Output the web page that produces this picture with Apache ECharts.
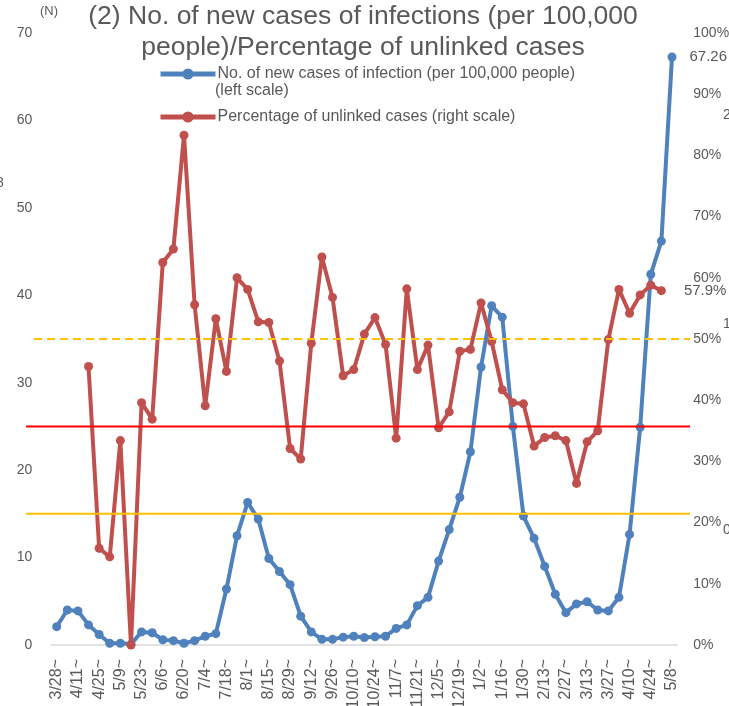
<!DOCTYPE html>
<html>
<head>
<meta charset="utf-8">
<script src="https://cdn.jsdelivr.net/npm/echarts@6/dist/echarts.min.js"></script>
<style>
  html, body { margin: 0; padding: 0; background: #fff; }
  #chart { width: 729px; height: 706px; }
</style>
</head>
<body>
<div id="chart"></div>
<script>
// weekly periods (week starting), 2020/3/28 - 2021/5/8
const weeks = [
  '3/28', '4/4', '4/11', '4/18', '4/25', '5/2', '5/9', '5/16', '5/23', '5/30',
  '6/6', '6/13', '6/20', '6/27', '7/4', '7/11', '7/18', '7/25', '8/1', '8/8',
  '8/15', '8/22', '8/29', '9/5', '9/12', '9/19', '9/26', '10/3', '10/10', '10/17',
  '10/24', '10/31', '11/7', '11/14', '11/21', '11/28', '12/5', '12/12', '12/19', '12/26',
  '1/2', '1/9', '1/16', '1/23', '1/30', '2/6', '2/13', '2/20', '2/27', '3/6',
  '3/13', '3/20', '3/27', '4/3', '4/10', '4/17', '4/24', '5/1', '5/8'
]

// new cases per 100,000 people (left scale)
const newCases = [
  2.1, 4.0, 3.9, 2.3, 1.2, 0.2, 0.2, 0.1, 1.5, 1.4,
  0.6, 0.5, 0.2, 0.5, 1.0, 1.3, 6.4, 12.5, 16.3, 14.4,
  9.9, 8.4, 6.9, 3.3, 1.5, 0.65, 0.65, 0.9, 1.0, 0.85,
  0.95, 1.0, 1.9, 2.3, 4.5, 5.45, 9.6, 13.2, 16.9, 22.1,
  31.8, 38.8, 37.5, 25.0, 14.75, 12.2, 9.0, 5.8, 3.7, 4.7,
  4.95, 4.0, 3.9, 5.45, 12.65, 24.9, 42.4, 46.2, 67.26
]

// percentage of unlinked cases (right scale)
const unlinked = [
  null, null, null, 45.5, 15.8, 14.4, 33.4, 0, 39.6, 36.9,
  62.5, 64.7, 83.3, 55.6, 39.1, 53.3, 44.7, 60.0, 58.1, 52.8,
  52.7, 46.4, 32.1, 30.4, 49.3, 63.4, 56.8, 44.0, 45.0, 50.8,
  53.5, 49.1, 33.8, 58.2, 45.0, 49.0, 35.5, 38.1, 48.0, 48.3,
  55.9, 49.6, 41.7, 39.6, 39.4, 32.5, 33.9, 34.2, 33.4, 26.4,
  33.2, 35.0, 49.9, 58.1, 54.2, 57.2, 58.8, 57.9, null
]

const leftTicks = { min: 0, max: 70, interval: 10 }
const rightTicks = { min: 0, max: 100, interval: 10 }

// reference levels on the left scale
const refLines = [
  { value: 15, color: '#FFC000', type: 'solid' },
  { value: 25, color: '#FF0000', type: 'solid' },
  { value: 35, color: '#FFC000', type: 'dashed' }
]

const blue = '#4F81BD'
const red = '#C0504D'
const grey = '#595959'
const font = '"Liberation Sans", Arial, "Noto Sans CJK JP", sans-serif'

{
  let view = document.getElementById('chart')
  let myChart = echarts.init(view)

  let lastBlue = newCases.length - 1
  let lastRed = unlinked.length - 2

  let option = {
    animation: false,
    textStyle: { fontFamily: font },
    title: {
      text: '(2) No. of new cases of infections (per 100,000\npeople)/Percentage of unlinked cases',
      left: 358,
      top: -4,
      textAlign: 'center',
      textStyle: {
        fontFamily: font,
        fontSize: 26.5,
        fontWeight: 'normal',
        color: grey,
        lineHeight: 31
      }
    },
    legend: {
      orient: 'vertical',
      left: 158,
      top: 66,
      padding: 0,
      itemWidth: 55,
      itemHeight: 14,
      itemGap: 27,
      textStyle: { fontFamily: font, fontSize: 16, color: grey, padding: [0, 0, 0, -3] },
      data: [
        {
          name: 'No. of new cases of infection (per 100,000 people)',
          itemStyle: { color: blue },
          lineStyle: { color: blue, width: 5 }
        },
        {
          name: 'Percentage of unlinked cases (right scale)',
          itemStyle: { color: red },
          lineStyle: { color: red, width: 5 }
        }
      ]
    },
    grid: { left: 51.4, right: 51.7, top: 33, bottom: 61, outerBoundsMode: 'none' },
    xAxis: {
      type: 'category',
      data: weeks,
      boundaryGap: true,
      axisLine: { lineStyle: { color: '#D9D9D9', width: 1.5 } },
      axisTick: { show: false },
      axisLabel: {
        rotate: 90,
        interval: 1,
        margin: 14,
        fontFamily: font,
        fontSize: 16,
        color: grey,
        formatter: v => v + '~'
      }
    },
    yAxis: [
      {
        type: 'value',
        min: leftTicks.min, max: leftTicks.max, interval: leftTicks.interval,
        axisLine: { show: false },
        axisTick: { show: false },
        splitLine: { show: false },
        axisLabel: { margin: 19, fontFamily: font, fontSize: 14, color: grey }
      },
      {
        type: 'value',
        min: rightTicks.min, max: rightTicks.max, interval: rightTicks.interval,
        axisLine: { show: false },
        axisTick: { show: false },
        splitLine: { show: false },
        axisLabel: { margin: 16, fontFamily: font, fontSize: 14, color: grey, formatter: '{value}%' }
      }
    ],
    series: [
      {
        name: 'No. of new cases of infection (per 100,000 people)',
        type: 'line',
        yAxisIndex: 0,
        data: newCases.map((v, i) => i === lastBlue
          ? { value: v, label: { show: true, position: 'right', distance: 13, formatter: '{c}', fontFamily: font, fontSize: 15, color: grey } }
          : v),
        symbol: 'circle',
        symbolSize: 9,
        showAllSymbol: true,
        lineStyle: { color: blue, width: 4 },
        itemStyle: { color: blue },
        z: 2
      },
      {
        name: 'Percentage of unlinked cases (right scale)',
        type: 'line',
        yAxisIndex: 1,
        data: unlinked.map((v, i) => i === lastRed
          ? { value: v, label: { show: true, position: 'right', distance: 18, formatter: '{c}%', fontFamily: font, fontSize: 15, color: grey } }
          : v),
        symbol: 'circle',
        symbolSize: 9,
        showAllSymbol: true,
        lineStyle: { color: red, width: 4 },
        itemStyle: { color: red },
        z: 3
      }
    ]
  }
  myChart.setOption(option)

  let graphics = refLines.map(r => {
    let y = myChart.convertToPixel({ yAxisIndex: 0 }, r.value)
    return {
      type: 'line',
      z: 10,
      shape: { x1: r.type === 'dashed' ? 34 : 26, y1: y, x2: 690, y2: y },
      style: { stroke: r.color, lineWidth: 2, lineDash: r.type === 'dashed' ? [8, 5] : null }
    }
  })
  graphics.push(
    { type: 'text', left: 40, top: 5, style: { text: '(N)', font: '13px ' + font, fill: grey } },
    { type: 'text', left: 215, top: 83, style: { text: '(left scale)', font: '16px ' + font, fill: grey } },
    // clipped labels from the neighbouring charts
    { type: 'text', left: -4, top: 176, style: { text: '8', font: '14px ' + font, fill: grey } },
    { type: 'text', left: 723, top: 108, style: { text: '2', font: '14px ' + font, fill: grey } },
    { type: 'text', left: 723, top: 317, style: { text: '1', font: '14px ' + font, fill: grey } },
    { type: 'text', left: 723, top: 523, style: { text: '0', font: '14px ' + font, fill: grey } }
  )
  myChart.setOption({ graphic: graphics })
}
</script>
</body>
</html>
